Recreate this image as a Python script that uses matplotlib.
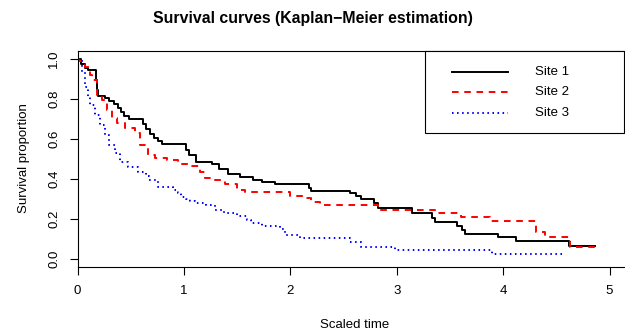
# -*- coding: utf-8 -*-

import numpy as np
import matplotlib
matplotlib.use("Agg")
import matplotlib.pyplot as plt
from matplotlib.patches import Rectangle

plt.rcParams['font.family'] = ['Liberation Sans', 'DejaVu Sans']

# Kaplan-Meier step curves (time, survival after each step)
t1 = [0, 0.03, 0.07, 0.10, 0.17, 0.18, 0.19, 0.26, 0.30, 0.34, 0.38, 0.41, 0.44, 0.48,
      0.62, 0.64, 0.68, 0.72, 0.76, 0.79, 1.02, 1.05, 1.11, 1.26, 1.33, 1.41, 1.53,
      1.65, 1.73, 1.86, 2.18, 2.19, 2.56, 2.62, 2.66, 2.79, 2.82, 3.14, 3.33, 3.36,
      3.57, 3.61, 3.64, 3.95, 4.12, 4.62, 4.86]
s1 = [1.0, 0.973, 0.953, 0.943, 0.893, 0.843, 0.813, 0.803, 0.788, 0.773, 0.753, 0.733,
      0.713, 0.698, 0.673, 0.648, 0.623, 0.603, 0.588, 0.573, 0.543, 0.518, 0.483,
      0.473, 0.448, 0.423, 0.408, 0.393, 0.383, 0.373, 0.353, 0.338, 0.328, 0.313,
      0.298, 0.278, 0.253, 0.228, 0.203, 0.183, 0.163, 0.143, 0.123, 0.108, 0.088,
      0.063, 0.063]

t2 = [0, 0.01, 0.07, 0.12, 0.14, 0.18, 0.23, 0.28, 0.32, 0.37, 0.45, 0.54, 0.59, 0.66,
      0.73, 0.84, 0.94, 1.08, 1.15, 1.20, 1.29, 1.39, 1.50, 1.57, 2.00, 2.14, 2.19,
      2.28, 2.82, 3.36, 3.60, 3.88, 4.31, 4.39, 4.63, 4.87]
s2 = [1.0, 0.99, 0.958, 0.918, 0.893, 0.818, 0.793, 0.743, 0.703, 0.678, 0.653, 0.628,
      0.568, 0.518, 0.503, 0.493, 0.473, 0.463, 0.433, 0.403, 0.393, 0.373, 0.343,
      0.333, 0.313, 0.303, 0.283, 0.268, 0.243, 0.228, 0.208, 0.188, 0.133, 0.108,
      0.058, 0.058]

t3 = [0, 0.01, 0.04, 0.07, 0.10, 0.12, 0.16, 0.21, 0.26, 0.30, 0.35, 0.40, 0.47, 0.57,
      0.64, 0.67, 0.76, 0.90, 0.94, 0.97, 1.02, 1.06, 1.10, 1.21, 1.29, 1.38, 1.50,
      1.59, 1.63, 1.73, 1.90, 1.95, 2.09, 2.56, 2.66, 2.98, 3.90, 4.56]
s3 = [1.0, 0.993, 0.933, 0.858, 0.808, 0.768, 0.718, 0.668, 0.618, 0.568, 0.528, 0.483,
      0.458, 0.433, 0.413, 0.393, 0.358, 0.343, 0.328, 0.308, 0.298, 0.288, 0.278,
      0.268, 0.243, 0.228, 0.213, 0.193, 0.178, 0.163, 0.148, 0.118, 0.103, 0.083,
      0.058, 0.043, 0.023, 0.023]

labels = ['Site 1', 'Site 2', 'Site 3']
colors = ['black', 'red', 'blue']
styles = ['-', (0, (3.4, 2.9)), (0, (0.8, 1.8))]

xticks = [0, 1, 2, 3, 4, 5]
yticks = [0.0, 0.2, 0.4, 0.6, 0.8, 1.0]

#%% Figure
W, H = 625, 331
fig = plt.figure(figsize=(W / 100, H / 100), dpi=100)
# plot region in pixels: left 77.5, top 50.5, bottom 266.5, right past the edge
ax = fig.add_axes([77.5 / W, (H - 266.5) / H, 553.3 / W, 216 / H])

for t, s, c, ls, lab in zip([t1, t2, t3], [s1, s2, s3], colors, styles, labels):
    ax.step(t, s, where='post', color=c, ls=ls, lw=1.4, label=lab)

ax.set_xlim(0, 5.2)
ax.set_ylim(-0.04, 1.04)
ax.set_xticks(xticks)
ax.set_xticklabels([str(v) for v in xticks])
ax.set_yticks(yticks)
ax.set_yticklabels(['%.1f' % v for v in yticks], rotation=90, va='center')
ax.tick_params(axis='both', length=5.5, width=0.8, labelsize=9.5, direction='out')
ax.tick_params(axis='x', pad=8)
ax.tick_params(axis='y', pad=7)
ax.spines['right'].set_visible(False)
for sp in ['left', 'bottom', 'top']:
    ax.spines[sp].set_linewidth(0.8)

ax.set_xlabel('Scaled time', fontsize=9.5, labelpad=16)
ax.set_ylabel('Survival proportion', fontsize=9.5, labelpad=13)
fig.text(0.5, 1 - 18 / H, 'Survival curves (Kaplan\u2212Meier estimation)',
         ha='center', va='center', fontsize=11.4, fontweight='bold')

# Legend box like R's legend("topright")
x0, x1 = 0.628, 0.988
ax.add_patch(Rectangle((x0, 0.618), x1 - x0, 0.382, transform=ax.transAxes,
                       facecolor='white', edgecolor='black', lw=0.8, zorder=5,
                       clip_on=False))
rows = [0.900, 0.808, 0.711]
for yy, c, ls, lab in zip(rows, colors, styles, labels):
    ax.plot([0.677, 0.778], [yy, yy], transform=ax.transAxes, color=c, ls=ls,
            lw=1.4, zorder=6, clip_on=False)
    ax.text(0.827, yy, lab, transform=ax.transAxes, va='center', ha='left',
            fontsize=9.5, zorder=6)

fig.savefig('out.png', dpi=100)
